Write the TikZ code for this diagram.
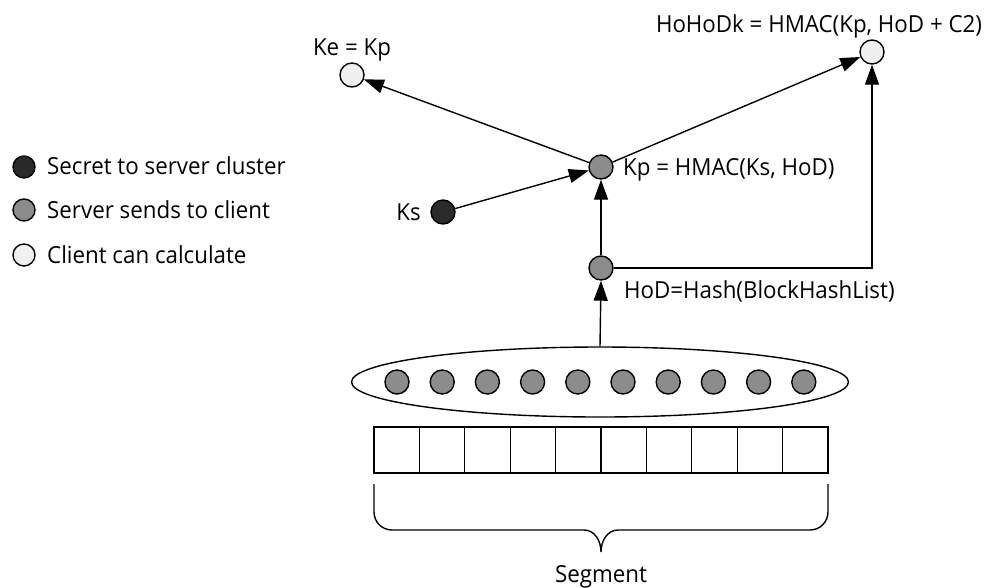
\documentclass[tikz,border=0pt]{standalone}
\usepackage{fontspec}
\setmainfont{Open Sans}[FakeStretch=0.95]
\usetikzlibrary{shapes.geometric,arrows.meta}
\definecolor{darkdot}{HTML}{2A2A2A}
\definecolor{graydot}{HTML}{8C8C8C}
\definecolor{lightdot}{HTML}{F0F0F0}
\begin{document}
\begin{tikzpicture}[x=1pt,y=-1pt,
  dot/.style={circle,draw=black,line width=1.4pt,minimum size=24pt,inner sep=0pt},
  darkd/.style={dot,fill=darkdot},
  grayd/.style={dot,fill=graydot},
  lightd/.style={dot,fill=lightdot},
  lbl/.style={inner sep=0pt,font=\fontsize{23.5}{28}\selectfont},
  arr/.style={line width=1.4pt,-{Triangle[length=20pt,width=14pt]}},
  cell/.style={draw,line width=1.3pt,minimum width=45.4pt,minimum height=46pt,inner sep=0pt}]
\useasboundingbox (0,0) rectangle (995,587);
% legend
\node[darkd,minimum size=22pt] (l1) at (24,167) {};
\node[grayd,minimum size=22pt] (l2) at (24,210) {};
\node[lightd,minimum size=22pt] (l3) at (24,255) {};
\node[lbl,anchor=base west] (t1) at (47,174) {Secret to server cluster};
\node[lbl,anchor=base west] (t2) at (47,218) {Server sends to client};
\node[lbl,anchor=base west] (t3) at (47,263) {Client can calculate};
% main nodes
\node[lightd] (ke) at (352,75) {};
\node[lightd] (hk) at (872,52) {};
\node[grayd] (kp) at (601,167) {};
\node[darkd] (ks) at (443,212) {};
\node[grayd] (hod) at (601,268) {};
\node[lbl,anchor=base] (keT) at (352,55) {Ke = Kp};
\node[lbl,anchor=base] (hkT) at (819,32) {HoHoDk = HMAC(Kp, HoD + C2)};
\node[lbl,anchor=base west] (kpT) at (623,175) {Kp = HMAC(Ks, HoD)};
\node[lbl,anchor=base east] (ksT) at (421,220) {Ks};
\node[lbl,anchor=base west] (hodT) at (624,298) {HoD=Hash(BlockHashList)};
% ellipse with block hashes
\node[ellipse,draw,line width=1.4pt,minimum width=497pt,minimum height=70pt,inner sep=0pt] (ell) at (600,382) {};
\foreach \i in {1,...,10}{
  \node[grayd,minimum size=24pt] (c\i) at ({397+45.2*(\i-1)},382) {};
}
% blocks
\foreach \i in {1,...,10}{
  \node[cell] (b\i) at ({374+45.4*(\i-0.5)},450) {};
}
% brace
\draw[line width=1.4pt] (374,484) -- (374,512) to[out=-90,in=180] (392,530) -- (584,530)
  to[out=0,in=90] (601,552) to[out=90,in=180] (618,530) -- (810,530) to[out=0,in=-90] (828,512) -- (828,484);
\node[lbl,anchor=base] (seg) at (601,582) {Segment};
% connectors
\draw[arr] (ell.north) -- (hod.south);
\draw[arr] (hod.north) -- (kp.south);
\draw[arr] (ks) -- (kp);
\draw[arr] (kp) -- (ke);
\draw[arr] (kp) -- (hk);
\draw[arr] (hod.east) -| (hk.south);
\end{tikzpicture}
\end{document}
